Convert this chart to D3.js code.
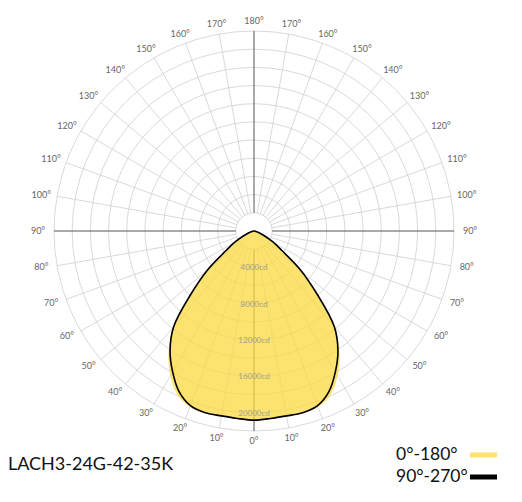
<!DOCTYPE html>
<html lang="en">
<head>
    <meta charset="UTF-8">
    <title>LACH3-24G-42-35K polar curve</title>
    <script src="https://d3js.org/d3.v7.min.js"></script>
    <style>
        body { margin: 0; background: white; }
        svg { display: block; }
        text { font-family: Lato, "Open Sans", sans-serif; }
    </style>
</head>
<body>
    <svg id="chart" width="522" height="502"></svg>

    <script>
        // gamma angles (0 = straight down), one half of the curve, mirrored on the other side
        const gammaAngles = [0, 5, 10, 15, 20, 25, 30, 35, 40, 45, 50, 55, 60, 65, 70, 75, 80, 85, 90];
        // intensity in cd, plane 0°-180°
        const c0_180 = [20800, 20700, 20650, 20750, 20600, 19900, 18400, 16400, 13850, 9850, 6700, 3750, 2400, 1300, 700, 300, 150, 50, 0];
        // intensity in cd, plane 90°-270°
        const c90_270 = [20800, 20700, 20650, 20700, 20450, 19500, 17900, 16100, 13750, 9800, 6700, 3750, 2400, 1300, 700, 300, 150, 50, 0];

        const ringValues = [2000, 4000, 6000, 8000, 10000, 12000, 14000, 16000, 18000, 20000, 22000];
        const cdLabels = [4000, 8000, 12000, 16000, 20000];
        const spokeAngles = d3.range(0, 360, 10);
        const labelAngles = d3.range(0, 190, 10);

        const legendItems = [
            { name: "0°-180°", color: "#fde36e" },
            { name: "90°-270°", color: "#000000" }
        ];
        const title = "LACH3-24G-42-35K";

        const cx = 254, cy = 231;
        const r = d3.scaleLinear().domain([0, 22000]).range([0, 200]);
        const holeR = r(2000);

        const svg = d3.select("#chart");
        const g = svg.append("g").attr("transform", `translate(${cx},${cy})`);

        // build a closed curve from -90 to 90 (signed gamma)
        function curvePoints(values) {
            const pts = [];
            for (let i = gammaAngles.length - 1; i > 0; i--) pts.push([-gammaAngles[i], values[i]]);
            for (let i = 0; i < gammaAngles.length; i++) pts.push([gammaAngles[i], values[i]]);
            return pts;
        }
        const radial = d3.lineRadial()
            .angle(d => Math.PI - d[0] * Math.PI / 180)
            .radius(d => r(d[1]))
            .curve(d3.curveCatmullRom);

        // helpers to place something at gamma (0 = down)
        const px = (a, rad) => rad * Math.sin(a * Math.PI / 180);
        const py = (a, rad) => rad * Math.cos(a * Math.PI / 180);

        // grid spokes
        g.selectAll("line.spoke")
            .data(spokeAngles.filter(a => a % 90 !== 0))
            .join("line")
            .attr("class", "spoke")
            .attr("x1", a => px(a, holeR)).attr("y1", a => py(a, holeR))
            .attr("x2", a => px(a, r(22000))).attr("y2", a => py(a, r(22000)))
            .attr("stroke", "#cfcfcf").attr("stroke-width", 0.8);

        // grid rings
        g.selectAll("circle.ring")
            .data(ringValues)
            .join("circle")
            .attr("class", "ring")
            .attr("r", d => r(d))
            .attr("fill", "none")
            .attr("stroke", "#cfcfcf").attr("stroke-width", 0.8);

        // main axes
        g.selectAll("line.axis")
            .data([0, 90, 180, 270])
            .join("line")
            .attr("class", "axis")
            .attr("x1", a => px(a, holeR)).attr("y1", a => py(a, holeR))
            .attr("x2", a => px(a, r(22000))).attr("y2", a => py(a, r(22000)))
            .attr("stroke", "#555").attr("stroke-width", 1);

        // plane 0-180: filled
        g.append("path")
            .datum(curvePoints(c0_180))
            .attr("d", d => radial(d) + "Z")
            .attr("fill", "#fbd83e")
            .attr("fill-opacity", 0.75);

        // plane 90-270: black outline
        g.append("path")
            .datum(curvePoints(c90_270))
            .attr("d", d => radial(d) + "Z")
            .attr("fill", "none")
            .attr("stroke", "#000")
            .attr("stroke-width", 1.6);

        // cd labels on the vertical axis
        g.selectAll("text.cd")
            .data(cdLabels)
            .join("text")
            .attr("class", "cd")
            .attr("x", 0)
            .attr("y", d => r(d) + 3)
            .attr("text-anchor", "middle")
            .attr("font-size", 8)
            .attr("fill", "#a39f95")
            .text(d => d + "cd");

        // angle labels, both sides
        const angleLabels = [];
        labelAngles.forEach(a => {
            angleLabels.push({ a: a, side: -1 });
            if (a !== 0 && a !== 180) angleLabels.push({ a: a, side: 1 });
        });
        g.selectAll("text.ang")
            .data(angleLabels)
            .join("text")
            .attr("class", "ang")
            .attr("x", d => d.side * px(d.a, 216))
            .attr("y", d => py(d.a, 210) + 3)
            .attr("text-anchor", "middle")
            .attr("font-size", 9)
            .attr("fill", "#666")
            .text(d => d.a + "°");

        // title
        svg.append("text")
            .attr("x", 8).attr("y", 470)
            .attr("font-size", 18)
            .attr("fill", "#111")
            .text(title);

        // legend
        const leg = svg.selectAll("g.leg")
            .data(legendItems)
            .join("g")
            .attr("class", "leg")
            .attr("transform", (d, i) => `translate(396,${460 + i * 22})`);
        leg.append("text")
            .attr("font-size", 17.5)
            .attr("fill", "#111")
            .text(d => d.name);
        leg.append("line")
            .attr("x1", 74).attr("x2", 101)
            .attr("y1", -5).attr("y2", -5)
            .attr("stroke", d => d.color)
            .attr("stroke-width", 5);
    </script>
</body>
</html>
